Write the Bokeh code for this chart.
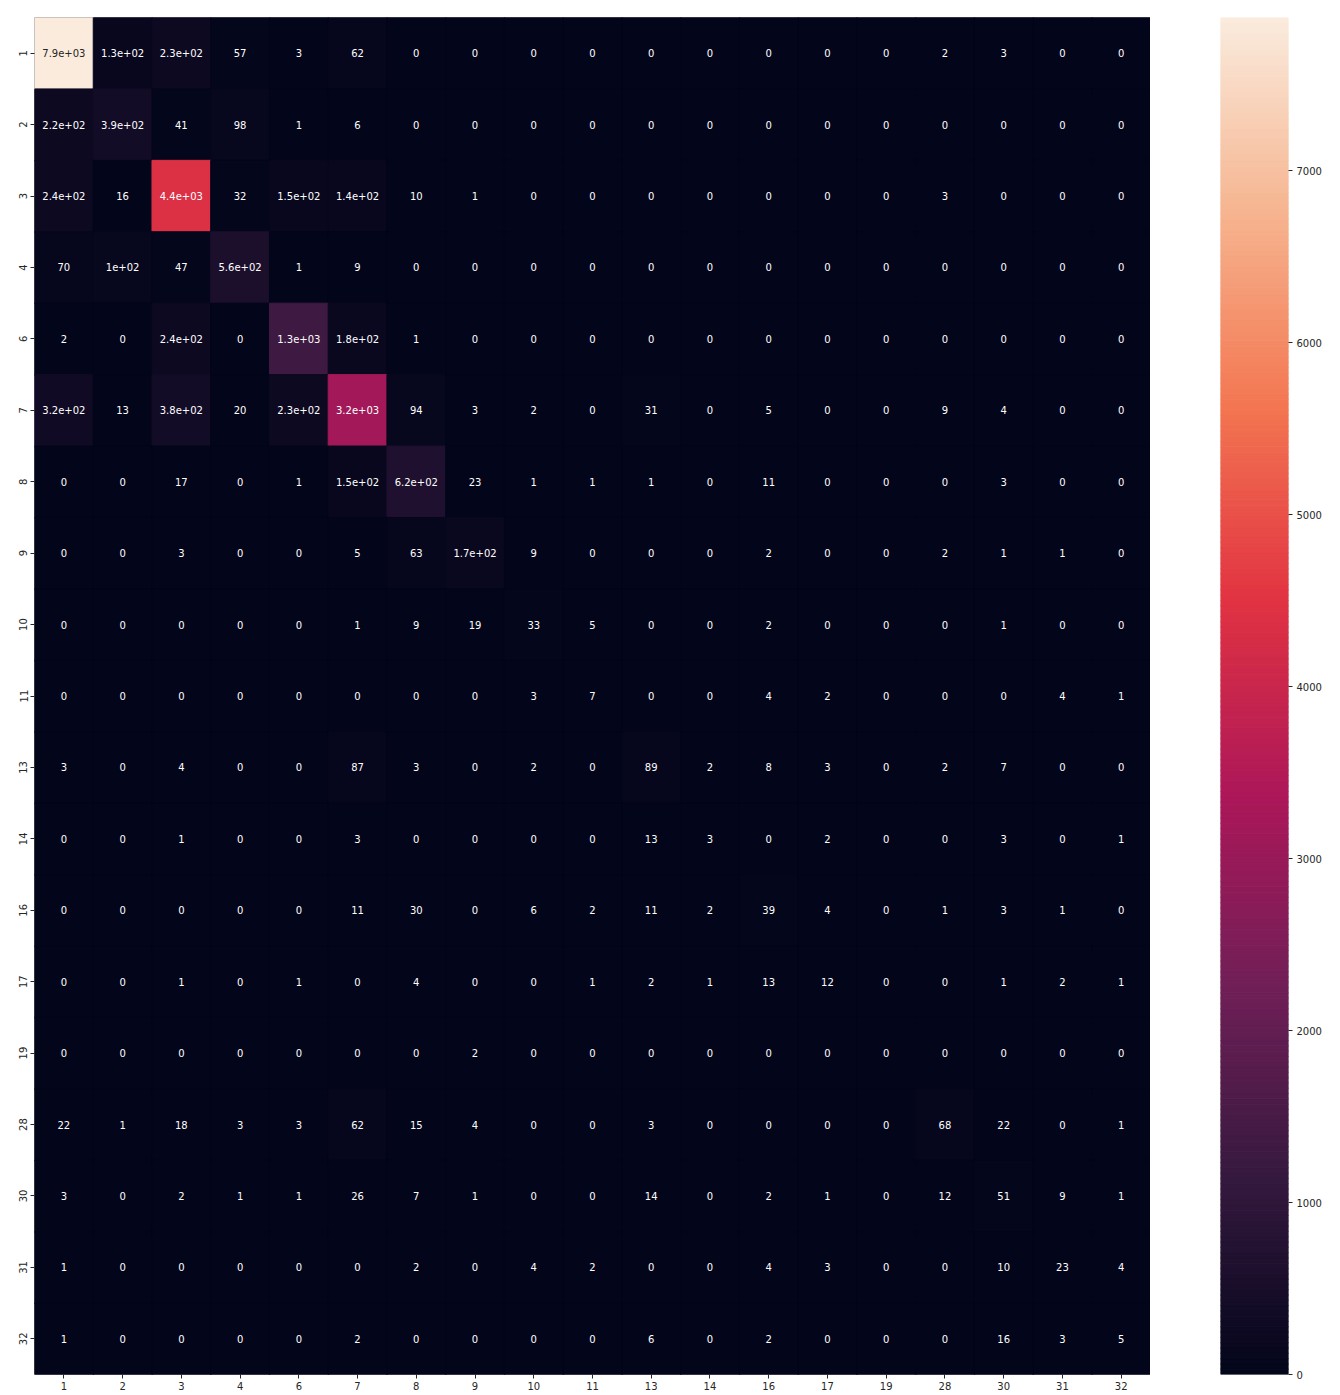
import numpy as np
from bokeh.plotting import figure
from bokeh.layouts import row
from bokeh.models import ColumnDataSource, LinearColorMapper, FixedTicker, Range1d
from bokeh.transform import transform
from bokeh.core.properties import value
from bokeh.embed import file_html
from bokeh.resources import INLINE

labels = ["1", "2", "3", "4", "6", "7", "8", "9", "10", "11", "13", "14",
          "16", "17", "19", "28", "30", "31", "32"]

row_1 = [7890, 130, 230, 57, 3, 62, 0, 0, 0, 0, 0, 0, 0, 0, 0, 2, 3, 0, 0]
row_2 = [220, 390, 41, 98, 1, 6, 0, 0, 0, 0, 0, 0, 0, 0, 0, 0, 0, 0, 0]
row_3 = [240, 16, 4400, 32, 150, 140, 10, 1, 0, 0, 0, 0, 0, 0, 0, 3, 0, 0, 0]
row_4 = [70, 100, 47, 560, 1, 9, 0, 0, 0, 0, 0, 0, 0, 0, 0, 0, 0, 0, 0]
row_6 = [2, 0, 240, 0, 1300, 180, 1, 0, 0, 0, 0, 0, 0, 0, 0, 0, 0, 0, 0]
row_7 = [320, 13, 380, 20, 230, 3200, 94, 3, 2, 0, 31, 0, 5, 0, 0, 9, 4, 0, 0]
row_8 = [0, 0, 17, 0, 1, 150, 620, 23, 1, 1, 1, 0, 11, 0, 0, 0, 3, 0, 0]
row_9 = [0, 0, 3, 0, 0, 5, 63, 170, 9, 0, 0, 0, 2, 0, 0, 2, 1, 1, 0]
row_10 = [0, 0, 0, 0, 0, 1, 9, 19, 33, 5, 0, 0, 2, 0, 0, 0, 1, 0, 0]
row_11 = [0, 0, 0, 0, 0, 0, 0, 0, 3, 7, 0, 0, 4, 2, 0, 0, 0, 4, 1]
row_13 = [3, 0, 4, 0, 0, 87, 3, 0, 2, 0, 89, 2, 8, 3, 0, 2, 7, 0, 0]
row_14 = [0, 0, 1, 0, 0, 3, 0, 0, 0, 0, 13, 3, 0, 2, 0, 0, 3, 0, 1]
row_16 = [0, 0, 0, 0, 0, 11, 30, 0, 6, 2, 11, 2, 39, 4, 0, 1, 3, 1, 0]
row_17 = [0, 0, 1, 0, 1, 0, 4, 0, 0, 1, 2, 1, 13, 12, 0, 0, 1, 2, 1]
row_19 = [0, 0, 0, 0, 0, 0, 0, 2, 0, 0, 0, 0, 0, 0, 0, 0, 0, 0, 0]
row_28 = [22, 1, 18, 3, 3, 62, 15, 4, 0, 0, 3, 0, 0, 0, 0, 68, 22, 0, 1]
row_30 = [3, 0, 2, 1, 1, 26, 7, 1, 0, 0, 14, 0, 2, 1, 0, 12, 51, 9, 1]
row_31 = [1, 0, 0, 0, 0, 0, 2, 0, 4, 2, 0, 0, 4, 3, 0, 0, 10, 23, 4]
row_32 = [1, 0, 0, 0, 0, 2, 0, 0, 0, 0, 6, 0, 2, 0, 0, 0, 16, 3, 5]

rows = [row_1, row_2, row_3, row_4, row_6, row_7, row_8, row_9, row_10, row_11,
        row_13, row_14, row_16, row_17, row_19, row_28, row_30, row_31, row_32]

colorbar_ticks = [0, 1000, 2000, 3000, 4000, 5000, 6000, 7000]

# ---- rocket-like palette ----
anchors = ["#03051a", "#35193e", "#701f57", "#ad1759", "#e13342",
           "#f37651", "#f6b48f", "#faebdd"]


def hex2rgb(h):
    return [int(h[i:i + 2], 16) for i in (1, 3, 5)]


anc = [hex2rgb(a) for a in anchors]
N = 256
palette = []
for i in range(N):
    t = i / (N - 1) * (len(anc) - 1)
    k = min(int(t), len(anc) - 2)
    f = t - k
    c = [round(anc[k][j] + (anc[k + 1][j] - anc[k][j]) * f) for j in range(3)]
    palette.append("#%02x%02x%02x" % tuple(c))

vmin = 0
vmax = max(max(r) for r in rows)
mapper = LinearColorMapper(palette=palette, low=vmin, high=vmax)


def lum(hexc):
    out = []
    for v in hex2rgb(hexc):
        v = v / 255
        out.append(v / 12.92 if v <= 0.03928 else ((v + 0.055) / 1.055) ** 2.4)
    return 0.2126 * out[0] + 0.7152 * out[1] + 0.0722 * out[2]


xs, ys, vals, texts, tcols = [], [], [], [], []
for ri, r in enumerate(rows):
    for ci, v in enumerate(r):
        xs.append(labels[ci])
        ys.append(labels[ri])
        vals.append(v)
        texts.append(format(v, ".2g"))
        idx = min(N - 1, int((v - vmin) / (vmax - vmin) * N))
        tcols.append("#262626" if lum(palette[idx]) > 0.408 else "#ffffff")

src = ColumnDataSource(dict(x=xs, y=ys, v=vals, t=texts, tc=tcols))

H = 1394
FONT = "DejaVu Sans"

p = figure(width=1150, height=H, x_range=labels, y_range=list(reversed(labels)),
           output_backend="svg", toolbar_location=None,
           min_border_left=34, min_border_top=17, min_border_bottom=20,
           min_border_right=0)
p.outline_line_color = None
p.grid.visible = False
p.background_fill_color = palette[0]

p.rect(x="x", y="y", width=1, height=1, source=src, dilate=True,
       fill_color=transform("v", mapper), line_color=transform("v", mapper),
       line_width=1)
p.text(x="x", y="y", text="t", source=src, text_color="tc",
       text_align="center", text_baseline="middle",
       text_font=value(FONT), text_font_size="10px")


def style_axis(ax):
    ax.axis_line_color = None
    ax.major_tick_in = 0
    ax.major_tick_out = 4
    ax.major_tick_line_color = "#262626"
    ax.minor_tick_line_color = None
    ax.major_label_text_font = FONT
    ax.major_label_text_font_size = "10px"
    ax.major_label_text_color = "#262626"
    ax.major_label_standoff = 3


style_axis(p.xaxis[0])
style_axis(p.yaxis[0])
p.yaxis.major_label_orientation = "vertical"

# ---- colour bar as its own small figure ----
cb = figure(width=188, height=H, x_range=Range1d(0, 1), y_range=Range1d(vmin, vmax),
            output_backend="svg", toolbar_location=None, y_axis_location="right",
            min_border_left=70, min_border_right=50, min_border_top=17,
            min_border_bottom=20)
cb.outline_line_color = None
cb.grid.visible = False
cb.xaxis.visible = False
edges = np.linspace(vmin, vmax, N + 1)
cb.quad(left=0, right=1, bottom=edges[:-1], top=edges[1:],
        fill_color=palette, line_color=palette, line_width=1)
cb.yaxis.ticker = FixedTicker(ticks=colorbar_ticks)
style_axis(cb.yaxis[0])
cb.yaxis.major_label_standoff = 4

layout = row(p, cb)
open("out.html", "w").write(file_html(layout, INLINE))
